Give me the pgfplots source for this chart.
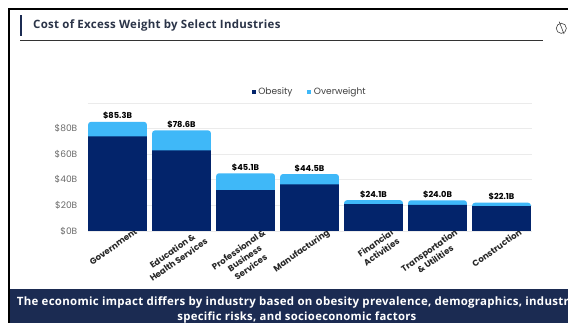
\documentclass[border=0pt]{standalone}
\usepackage{fontspec}
\setmainfont{Poppins}
\newfontfamily\headfont[LetterSpace=2.5]{Open Sans}
\usepackage{pgfplots}
\pgfplotsset{compat=1.18}
\usepackage{pgfplotstable}
\definecolor{obesity}{HTML}{03246B}
\definecolor{overweight}{HTML}{3FB8F8}
\definecolor{banner}{HTML}{1B2B52}
\definecolor{headtext}{HTML}{2B3448}
\definecolor{ticktext}{HTML}{6A6A6A}
\definecolor{gridline}{HTML}{EBEBEB}

% total = obesity + overweight, in billions of dollars
\pgfplotstableread{
idx total obesity
0 85.3 74.0
1 78.6 63.0
2 45.1 32.0
3 44.5 36.5
4 24.1 21.0
5 24.0 20.5
6 22.1 19.5
}\costs

\pgfplotsset{
  dot key/.style={legend image code/.code={\fill[##1,draw=none] (0pt,-1.5pt) rectangle (3pt,1.5pt);}},
}

\begin{document}
\begin{tikzpicture}
% page area: 568 x 323 px at 0.75 pt per px
\clip (0,0) rectangle (426pt,242.25pt);
\fill[white] (0,0) rectangle (426pt,242.25pt);

% slide frame
\fill[black] (6pt,236.2pt) rectangle (426pt,234.9pt);
\fill[black] (6pt,0) rectangle (7.6pt,236pt);

% heading
\fill[banner] (15pt,215pt) rectangle (16.6pt,231pt);
\draw[black!80,line width=0.6pt] (15pt,212.2pt) -- (407pt,212.2pt);
\node[anchor=west,inner sep=0pt,text=headtext] at (24.7pt,222.9pt)
  {\headfont\fontsize{8.6pt}{10pt}\selectfont\bfseries Cost of Excess Weight by Select Industries};

% small icon beside the rule
\draw[black!75,line width=0.45pt] (421pt,221pt) circle (3.8pt);
\draw[black!75,line width=0.45pt] (419.4pt,226pt) -- (423pt,216.8pt);

% footer banner
\fill[banner] (7.6pt,0) rectangle (426pt,25.4pt);
\node[anchor=west,inner sep=0pt,text=white] at (12.5pt,15.3pt)
  {\headfont\fontsize{8.6pt}{10pt}\selectfont\bfseries The economic impact differs by industry based on obesity prevalence, demographics, industry};
\node[anchor=center,inner sep=0pt,text=white] at (222.7pt,3.8pt)
  {\headfont\fontsize{8.5pt}{10pt}\selectfont\bfseries specific risks, and socioeconomic factors};

\begin{axis}[
  at={(66pt,69pt)}, anchor=south west,
  scale only axis, width=333pt, height=96pt,
  xmin=-0.461, xmax=6.476, ymin=0, ymax=100,
  axis line style={draw=none},
  tick style={draw=none},
  ymajorgrids, grid style={gridline,line width=0.5pt},
  ytick={0,20,40,60,80,100},
  yticklabels={\$0B,\$20B,\$40B,\$60B,\$80B,},
  yticklabel style={font=\fontsize{6.8pt}{8pt}\selectfont,text=ticktext,xshift=-4.5pt},
  xtick={0,1,2,3,4,5,6},
  xticklabels={Government,{Education \&\\Health Services},{Professional \&\\Business\\Services},Manufacturing,{Financial\\Activities},{Transportation\\\& Utilities},Construction},
  xticklabel style={font=\fontsize{6.4pt}{8pt}\selectfont\bfseries,text=black!85,rotate=35,anchor=north east,align=center,inner sep=1pt,yshift=-1pt,xshift=15pt},
  ybar, bar width=0.92,
  legend style={at={(0.5,1.0)},anchor=south,draw=none,fill=none,legend columns=2,
    font=\fontsize{6.8pt}{7.5pt}\selectfont,text=black!75,
    /tikz/every even column/.style={column sep=9pt},yshift=1pt},
]
% the lighter total sits behind the darker obesity bar, so only its rounded top shows
\addplot[bar shift=0pt,fill=overweight,draw=none,rounded corners=2.2pt,
  forget plot,
  nodes near coords={\$\pgfmathprintnumber[fixed,fixed zerofill,precision=1]{\pgfplotspointmeta}B},
  every node near coord/.append style={font=\fontsize{6.2pt}{7pt}\selectfont\bfseries,text=black,inner sep=1.5pt,/pgf/number format/assume math mode=true}]
  table[x=idx,y=total] {\costs};
\addplot[bar shift=0pt,fill=obesity,draw=none,dot key] table[x=idx,y=obesity] {\costs};
\addlegendentry{Obesity}
\addlegendimage{fill=overweight,dot key}
\addlegendentry{Overweight}
\end{axis}
\end{tikzpicture}
\end{document}
